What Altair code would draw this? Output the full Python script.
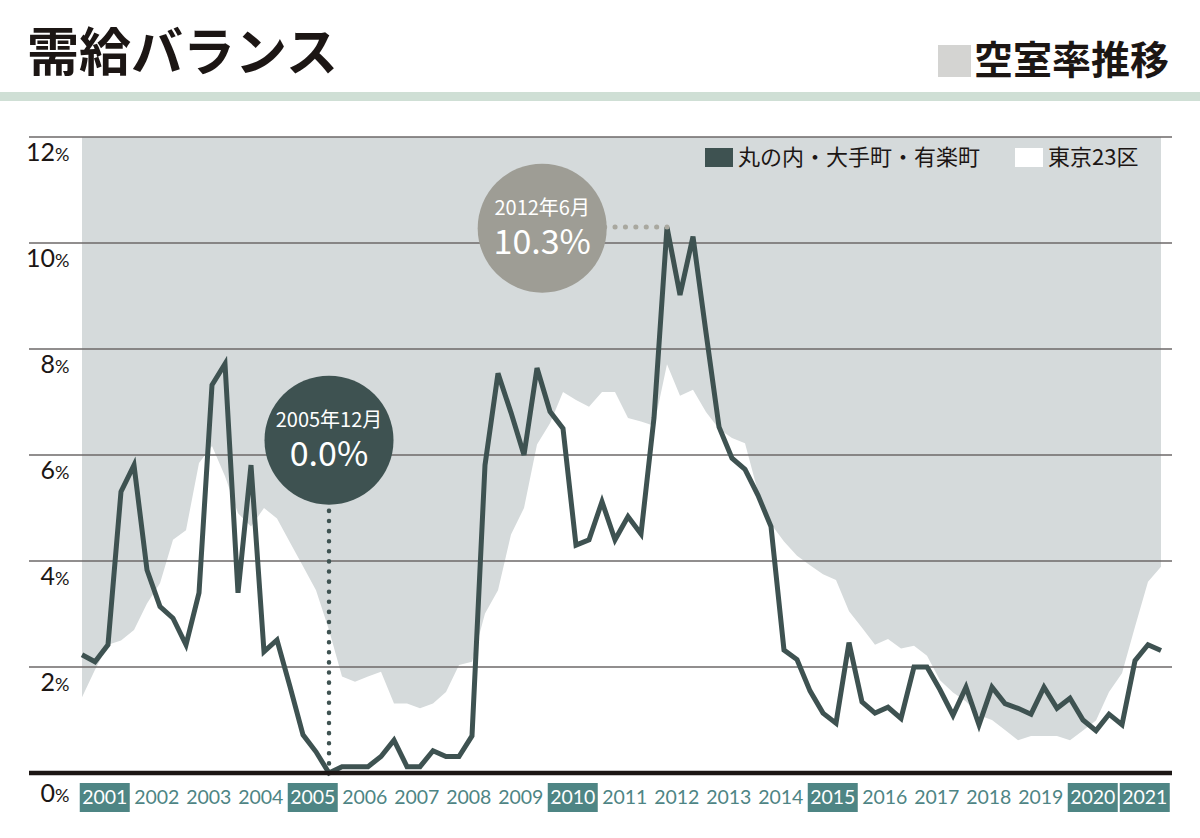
import altair as alt
import pandas as pd

# ---- data: quarterly office vacancy rates (%), 2001 Q1 .. 2021 Q4 ----
marunouchi = [
    2.23, 2.10, 2.42, 5.31, 5.81, 3.83, 3.14, 2.92, 2.42, 3.40,
    7.32, 7.72, 3.40, 5.81, 2.29, 2.51, 1.63, 0.72, 0.40, 0.0,
    0.12, 0.12, 0.12, 0.31, 0.62, 0.12, 0.12, 0.42, 0.31, 0.31,
    0.70, 5.81, 7.54, 6.80, 6.00, 7.64, 6.82, 6.50, 4.30, 4.40,
    5.12, 4.40, 4.84, 4.51, 6.70, 10.3, 9.02, 10.12, 8.31, 6.53,
    5.94, 5.73, 5.24, 4.65, 2.32, 2.14, 1.55, 1.13, 0.94, 2.46,
    1.34, 1.13, 1.24, 1.03, 2.00, 2.00, 1.57, 1.09, 1.62, 0.91,
    1.62, 1.31, 1.22, 1.11, 1.62, 1.22, 1.41, 1.00, 0.80, 1.11,
    0.91, 2.12, 2.42, 2.31,
]
tokyo23 = [
    1.43, 1.95, 2.42, 2.50, 2.70, 3.20, 3.58, 4.40, 4.58, 5.85,
    6.17, 5.60, 4.90, 4.65, 5.00, 4.80, 4.35, 3.90, 3.45, 2.70,
    1.82, 1.72, 1.82, 1.91, 1.31, 1.31, 1.22, 1.31, 1.53, 2.04,
    2.10, 3.01, 3.45, 4.50, 5.00, 6.20, 6.60, 7.19, 7.04, 6.91,
    7.19, 7.19, 6.70, 6.63, 6.55, 7.71, 7.12, 7.23, 6.81, 6.49,
    6.32, 6.22, 5.30, 4.70, 4.37, 4.10, 3.92, 3.75, 3.64, 3.05,
    2.74, 2.42, 2.53, 2.35, 2.40, 2.21, 1.75, 1.52, 1.35, 1.09,
    1.00, 0.81, 0.62, 0.70, 0.70, 0.70, 0.62, 0.80, 0.99, 1.53,
    1.88, 2.76, 3.61, 3.89,
]
pct_ticks = [0, 2, 4, 6, 8, 10, 12]
years = list(range(2001, 2022))
boxed_years = [2001, 2005, 2010, 2015, 2020, 2021]
low_q = 19    # 2005 Q4
high_q = 45   # 2012 Q2

# ---- colours ----
DARK = "#3e5251"
GREY_BG = "#d5dadb"
BUBBLE_GREY = "#9e9d95"
TEAL = "#4e8584"
RULE = "#6d6969"
INK = "#1c1614"

# ---- canvas geometry ----
W, H = 1200, 838
PLOT_L, PLOT_R = 82, 1161
ZERO_Y, TOP_Y = 773, 137
n = len(marunouchi)
px_per_q = (PLOT_R - PLOT_L) / (n - 1)
px_per_pct = (ZERO_Y - TOP_Y) / 12
BUBBLE_D = 129  # bubble diameter in px

XS = alt.Scale(domain=[-PLOT_L / px_per_q, (W - PLOT_L) / px_per_q], nice=False, zero=False)
YS = alt.Scale(domain=[-(H - ZERO_Y) / px_per_pct, ZERO_Y / px_per_pct], nice=False, zero=False)


def xq(field):
    return alt.X(field, type="quantitative", scale=XS, axis=None)


def yq(field):
    return alt.Y(field, type="quantitative", scale=YS, axis=None)


series = pd.DataFrame({
    "q": list(range(n)),
    "year": [2001 + k // 4 for k in range(n)],
    "month": [3 * (k % 4 + 1) for k in range(n)],
    "marunouchi": marunouchi,
    "tokyo23": tokyo23,
    "base": [0.0] * n,
})

# grey plotting field
field = alt.Chart(pd.DataFrame({"x0": [0], "x1": [n - 1], "y0": [0], "y1": [12]})).mark_rect(
    color=GREY_BG
).encode(x=xq("x0"), x2="x1", y=yq("y0"), y2="y1")

# Tokyo 23 wards as white area
area = alt.Chart(series).mark_area(color="#ffffff", opacity=1).encode(
    x=xq("q"), y=yq("tokyo23"), y2="base"
)

ticks = pd.DataFrame({"t": pct_ticks, "num": [str(t) for t in pct_ticks], "pct": ["%"] * len(pct_ticks)})

grid = alt.Chart(ticks).transform_filter("datum.t > 0").mark_rule(
    color=RULE, strokeWidth=1.6
).encode(y=yq("t"), x=alt.value(29), x2=alt.value(1172))

line = alt.Chart(series).mark_line(color=DARK, strokeWidth=5, strokeJoin="miter").encode(
    x=xq("q"), y=yq("marunouchi")
)

baseline = alt.Chart(ticks).transform_filter("datum.t == 0").mark_rule(
    color=INK, strokeWidth=4.5
).encode(y=yq("t"), x=alt.value(29), x2=alt.value(1172))

# callouts
ann = pd.DataFrame({
    "q": [low_q, high_q],
    "v": [marunouchi[low_q], marunouchi[high_q]],
    "cx": [19.0, 35.4],
    "cy": [6.28, 10.28],
    "fill": [DARK, BUBBLE_GREY],
})
ann["zero"] = 0.0
ann["date"] = [f"{2001 + k // 4}年{3 * (k % 4 + 1)}月" for k in ann["q"]]
ann["label"] = [f"{v:.1f}%" for v in ann["v"]]
low = ann.iloc[[0]]
high = ann.iloc[[1]]

drop_rule = alt.Chart(low).mark_rule(
    color=DARK, strokeWidth=4.5, strokeCap="round", strokeDash=[0.1, 10]
).encode(x=xq("q"), y=yq("cy"), y2="zero")

level_rule = alt.Chart(high).mark_rule(
    color="#a9a89f", strokeWidth=5, strokeCap="round", strokeDash=[0.1, 10.3]
).encode(x=xq("cx"), x2="q", y=yq("v"))

# Vega circle symbols: size is the square of the diameter
bubbles = alt.Chart(ann).mark_circle(size=BUBBLE_D ** 2, opacity=1).encode(
    x=xq("cx"), y=yq("cy"), color=alt.Color("fill:N", scale=None)
)

bubble_date = alt.Chart(ann).mark_text(
    font="Noto Sans CJK JP", fontSize=20, color="white", baseline="alphabetic", dy=-13
).encode(x=xq("cx"), y=yq("cy"), text="date")
bubble_val = alt.Chart(ann).mark_text(
    font="Noto Sans CJK JP", fontSize=34, fontWeight="normal", color="white", baseline="alphabetic", dy=26
).encode(x=xq("cx"), y=yq("cy"), text="label")

# y-axis labels: number plus smaller percent sign
num_lab = alt.Chart(ticks).transform_filter("datum.t > 0").mark_text(
    font="Lato", fontSize=25, color=INK, align="right", baseline="alphabetic", dy=24
).encode(y=yq("t"), x=alt.value(55), text="num")
pct_lab = alt.Chart(ticks).transform_filter("datum.t > 0").mark_text(
    font="Lato", fontSize=18, color=INK, align="left", baseline="alphabetic", dy=24
).encode(y=yq("t"), x=alt.value(55), text="pct")
num0 = alt.Chart(ticks).transform_filter("datum.t == 0").mark_text(
    font="Lato", fontSize=25, color=INK, align="right", baseline="alphabetic", dy=29
).encode(y=yq("t"), x=alt.value(55), text="num")
pct0 = alt.Chart(ticks).transform_filter("datum.t == 0").mark_text(
    font="Lato", fontSize=18, color=INK, align="left", baseline="alphabetic", dy=29
).encode(y=yq("t"), x=alt.value(55), text="pct")

# year labels along the bottom
yr = pd.DataFrame({"year": years})
yr["c"] = (yr["year"] - 2001) * 4 + 1.75
half_box = 25 / px_per_q
yr["c0"] = yr["c"] - half_box
yr["c1"] = yr["c"] + half_box
yr["boxed"] = yr["year"].isin(boxed_years)
yr["txt"] = yr["year"].astype(str)
yr["tcol"] = ["#ffffff" if b else TEAL for b in yr["boxed"]]

year_boxes = alt.Chart(yr).transform_filter("datum.boxed").mark_rect(color=TEAL).encode(
    x=xq("c0"), x2="c1", y=alt.value(783), y2=alt.value(812)
)
year_text = alt.Chart(yr).mark_text(font="Lato", fontSize=19.5, baseline="alphabetic").encode(
    x=xq("c"), y=alt.value(804), text="txt", color=alt.Color("tcol:N", scale=None)
)

# header
one = pd.DataFrame({"k": [0]})
band = alt.Chart(one).mark_rect(color="#cfdfd5").encode(
    x=alt.value(0), x2=alt.value(W), y=alt.value(92), y2=alt.value(101)
)
title = alt.Chart(pd.DataFrame({"s": ["需給バランス"]})).mark_text(
    font="Noto Sans CJK JP", fontSize=52, fontWeight="bold", color=INK, align="left", baseline="middle"
).encode(x=alt.value(27), y=alt.value(55), text="s")
sub_sq = alt.Chart(one).mark_rect(color="#d4d4d2").encode(
    x=alt.value(938), x2=alt.value(971), y=alt.value(45), y2=alt.value(77)
)
subtitle = alt.Chart(pd.DataFrame({"s": ["空室率推移"]})).mark_text(
    font="Noto Sans CJK JP", fontSize=39, fontWeight="bold", color=INK, align="left", baseline="middle"
).encode(x=alt.value(974), y=alt.value(62), text="s")

# legend
leg_dark = alt.Chart(one).mark_rect(color=DARK).encode(
    x=alt.value(705), x2=alt.value(733), y=alt.value(148), y2=alt.value(167)
)
leg_white = alt.Chart(one).mark_rect(color="#ffffff").encode(
    x=alt.value(1015), x2=alt.value(1043), y=alt.value(148), y2=alt.value(167)
)
leg_txt1 = alt.Chart(pd.DataFrame({"s": ["丸の内・大手町・有楽町"]})).mark_text(
    font="Noto Sans CJK JP", fontSize=22, color=INK, align="left", baseline="middle"
).encode(x=alt.value(738), y=alt.value(158), text="s")
leg_txt2 = alt.Chart(pd.DataFrame({"s": ["東京23区"]})).mark_text(
    font="Noto Sans CJK JP", fontSize=22, color=INK, align="left", baseline="middle"
).encode(x=alt.value(1048), y=alt.value(158), text="s")

chart = alt.layer(
    field, area, grid, line, baseline, drop_rule, level_rule, bubbles,
    bubble_date, bubble_val,
    num_lab, pct_lab, num0, pct0, year_boxes, year_text,
    band, title, sub_sq, subtitle,
    leg_dark, leg_white, leg_txt1, leg_txt2,
).properties(
    width=W, height=H, background="white", padding=0, autosize="none"
).configure_view(stroke=None)

chart.save("out.html", embed_options={"renderer": "svg", "actions": False})
